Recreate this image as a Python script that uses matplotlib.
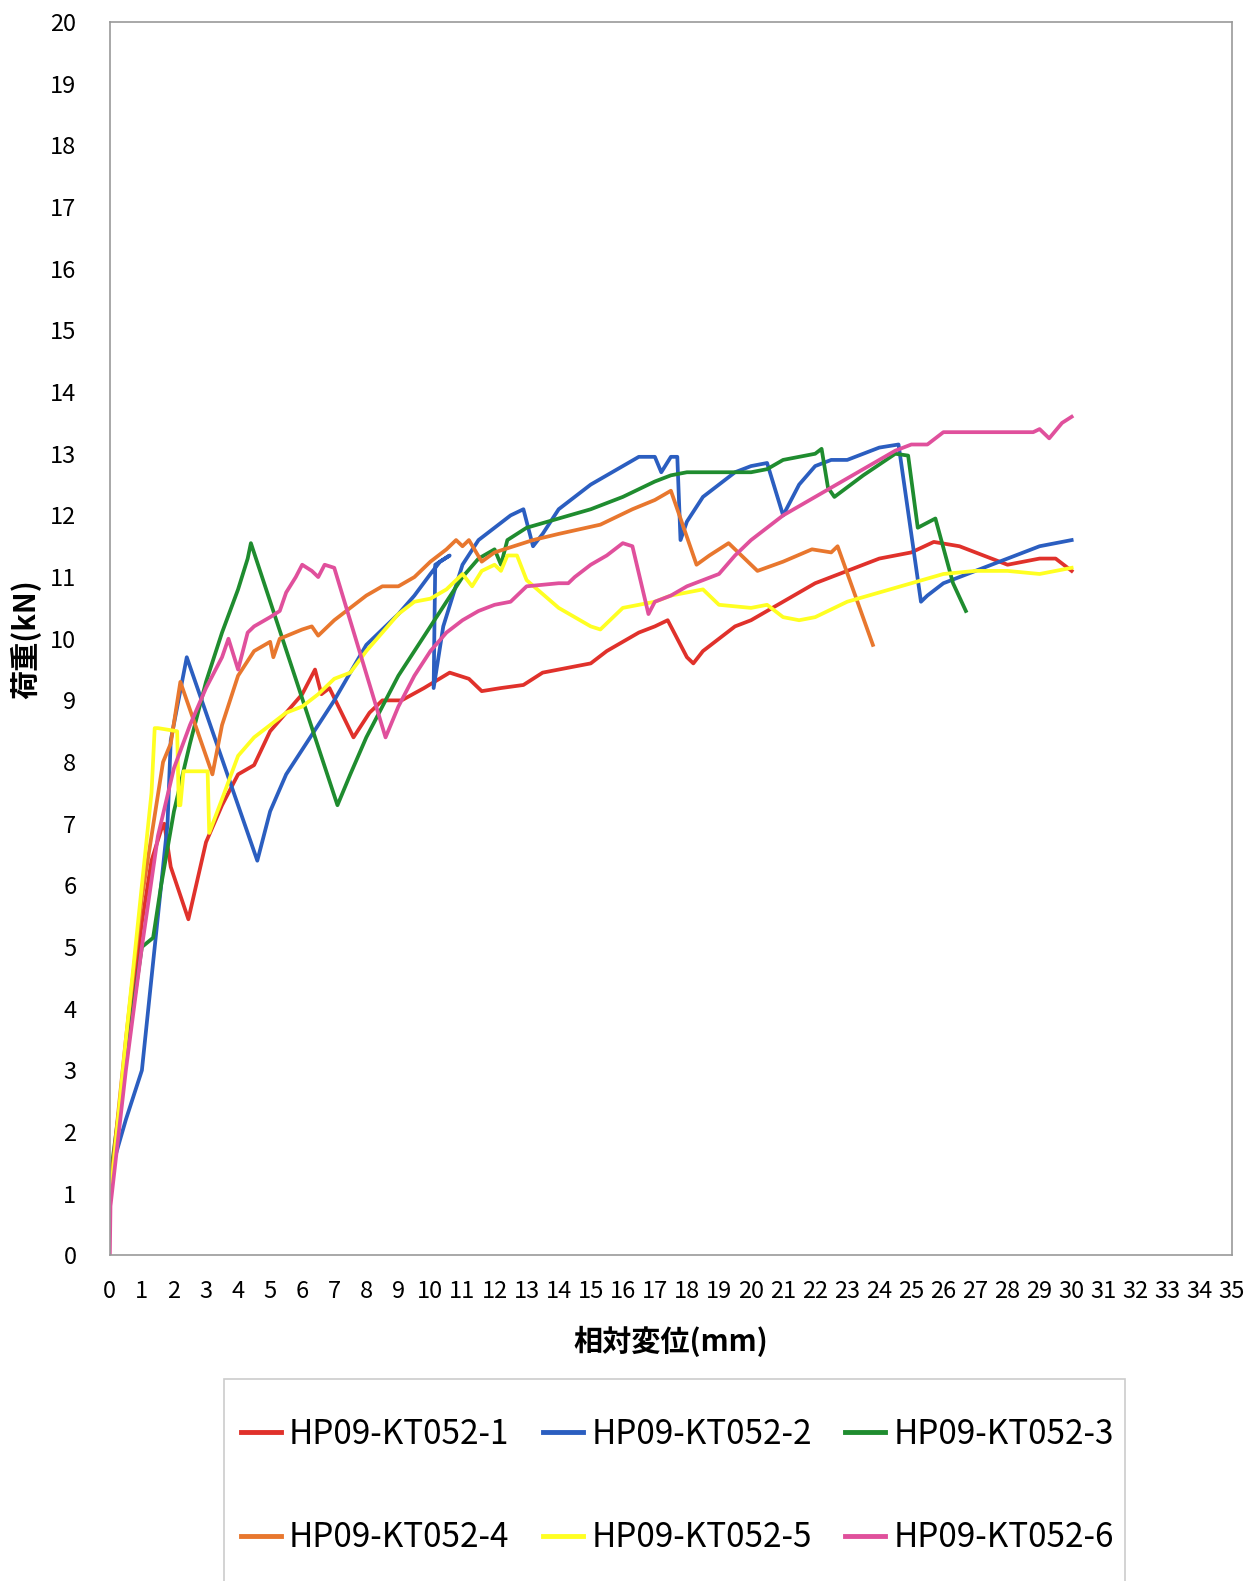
import matplotlib
matplotlib.use('Agg')
import matplotlib.pyplot as plt
from matplotlib.patches import Rectangle

plt.rcParams['font.family'] = ['Noto Sans CJK JP', 'DejaVu Sans']

# データ (相対変位 mm, 荷重 kN)
x1 = [0, 0.5, 1.0, 1.3, 1.6, 1.7, 1.9, 2.45, 3.0, 3.5, 4.0, 4.5, 5.0, 5.5, 6.0, 6.4, 6.6, 6.85,
      7.6, 8.1, 8.5, 9.1, 9.8, 10.6, 11.2, 11.6, 12.2, 12.9, 13.5, 15.0, 15.5, 16.5, 17.0, 17.4,
      18.0, 18.2, 18.5, 19.0, 19.5, 20.0, 21.0, 22.0, 23.0, 24.0, 25.0, 25.7, 26.5, 27.0, 28.0,
      29.0, 29.5, 30.0]
y1 = [0.9, 3.3, 5.4, 6.4, 6.9, 7.0, 6.3, 5.45, 6.7, 7.3, 7.8, 7.95, 8.5, 8.8, 9.1, 9.5, 9.1, 9.2,
      8.4, 8.8, 9.0, 9.0, 9.2, 9.45, 9.35, 9.15, 9.2, 9.25, 9.45, 9.6, 9.8, 10.1, 10.2, 10.3,
      9.7, 9.6, 9.8, 10.0, 10.2, 10.3, 10.6, 10.9, 11.1, 11.3, 11.4, 11.57, 11.5, 11.4, 11.2,
      11.3, 11.3, 11.1]

x2 = [0, 0.5, 1.0, 1.3, 1.5, 1.8, 1.9, 2.4, 4.6, 5.0, 5.5, 6.0, 7.0, 8.0, 9.0, 9.5, 10.0, 10.3,
      10.6, 10.15, 10.1, 10.4, 11.0, 11.5, 12.0, 12.5, 12.9, 13.2, 13.5, 14.0, 15.0, 16.0, 16.5,
      17.0, 17.2, 17.5, 17.7, 17.8, 18.0, 18.5, 19.0, 19.5, 20.0, 20.5, 21.0, 21.5, 22.0, 22.5,
      23.0, 23.5, 24.0, 24.6, 25.3, 25.5, 26.0, 27.0, 28.0, 29.0, 30.0]
y2 = [1.3, 2.2, 3.0, 4.5, 5.5, 7.0, 8.35, 9.7, 6.4, 7.2, 7.8, 8.2, 9.0, 9.9, 10.4, 10.7, 11.05, 11.25,
      11.35, 11.2, 9.2, 10.2, 11.2, 11.6, 11.8, 12.0, 12.1, 11.5, 11.7, 12.1, 12.5, 12.8, 12.95,
      12.95, 12.7, 12.95, 12.95, 11.6, 11.9, 12.3, 12.5, 12.7, 12.8, 12.85, 12.0, 12.5, 12.8, 12.9,
      12.9, 13.0, 13.1, 13.15, 10.6, 10.7, 10.9, 11.1, 11.3, 11.5, 11.6]

x3 = [0, 0.5, 1.0, 1.35, 1.6, 2.0, 2.5, 3.0, 3.5, 4.0, 4.3, 4.4, 7.1, 7.5, 8.0, 8.5, 9.0, 9.5,
      10.0, 10.5, 11.0, 11.5, 12.0, 12.2, 12.4, 12.7, 13.0, 14.0, 15.0, 16.0, 17.0, 17.5, 18.0,
      19.0, 20.0, 20.5, 21.0, 22.0, 22.2, 22.4, 22.6, 23.5, 24.5, 24.9, 25.2, 25.75, 26.3, 26.7]
y3 = [1.2, 3.2, 5.0, 5.15, 6.0, 7.2, 8.3, 9.3, 10.1, 10.8, 11.3, 11.55, 7.3, 7.8, 8.4, 8.9, 9.4, 9.8,
      10.2, 10.6, 11.0, 11.3, 11.45, 11.2, 11.6, 11.7, 11.8, 11.95, 12.1, 12.3, 12.55, 12.65, 12.7,
      12.7, 12.7, 12.75, 12.9, 13.0, 13.08, 12.45, 12.3, 12.65, 13.0, 12.97, 11.8, 11.95, 10.9, 10.45]

x4 = [0, 0.5, 1.0, 1.3, 1.66, 1.9, 2.2, 3.2, 3.5, 4.0, 4.5, 5.0, 5.1, 5.3, 6.0, 6.3, 6.5, 7.0,
      7.5, 8.0, 8.5, 9.0, 9.5, 10.0, 10.5, 10.8, 11.0, 11.2, 11.6, 12.0, 13.2, 14.0, 15.3, 16.3,
      17.0, 17.5, 18.3, 18.7, 19.3, 19.7, 20.2, 21.0, 21.9, 22.5, 22.7, 23.8]
y4 = [1.0, 3.5, 5.8, 6.8, 8.0, 8.3, 9.3, 7.8, 8.6, 9.4, 9.8, 9.95, 9.7, 10.0, 10.15, 10.2, 10.05, 10.3,
      10.5, 10.7, 10.85, 10.85, 11.0, 11.25, 11.45, 11.6, 11.5, 11.6, 11.25, 11.4, 11.6, 11.7, 11.85, 12.1,
      12.25, 12.4, 11.2, 11.35, 11.55, 11.35, 11.1, 11.25, 11.45, 11.4, 11.5, 9.9]

x5 = [0, 0.5, 1.0, 1.3, 1.4, 1.5, 2.1, 2.15, 2.2, 2.3, 3.0, 3.05, 3.1, 3.5, 4.0, 4.5, 5.0, 5.5,
      6.0, 6.5, 7.0, 7.5, 8.0, 8.5, 9.0, 9.5, 10.0, 10.5, 11.0, 11.3, 11.6, 12.0, 12.2, 12.4, 12.7,
      13.0, 14.0, 15.0, 15.3, 16.0, 16.5, 17.0, 17.5, 18.0, 18.5, 19.0, 20.0, 20.5, 21.0, 21.5,
      22.0, 23.0, 24.0, 25.0, 26.0, 27.0, 28.0, 29.0, 30.0]
y5 = [0.85, 3.5, 6.0, 7.5, 8.55, 8.55, 8.5, 7.3, 7.3, 7.85, 7.85, 7.85, 6.85, 7.4, 8.1, 8.4, 8.6, 8.8,
      8.9, 9.1, 9.35, 9.45, 9.8, 10.1, 10.4, 10.6, 10.65, 10.8, 11.05, 10.85, 11.1, 11.2, 11.1, 11.35, 11.35,
      10.95, 10.5, 10.2, 10.15, 10.5, 10.55, 10.6, 10.7, 10.75, 10.8, 10.55, 10.5, 10.55, 10.35, 10.3,
      10.35, 10.6, 10.75, 10.9, 11.05, 11.1, 11.1, 11.05, 11.15]

x6 = [0, 0.02, 0.5, 1.0, 1.5, 2.0, 2.5, 3.0, 3.5, 3.7, 4.0, 4.3, 4.5, 5.0, 5.3, 5.5, 5.8, 6.0,
      6.3, 6.5, 6.7, 7.0, 8.6, 9.0, 9.5, 10.0, 10.5, 11.0, 11.5, 12.0, 12.5, 13.0, 14.0, 14.3,
      14.5, 15.0, 15.5, 16.0, 16.3, 16.8, 17.0, 17.5, 18.0, 18.5, 19.0, 19.5, 20.0, 20.5, 21.0,
      21.5, 22.0, 23.0, 24.0, 24.5, 25.0, 25.5, 26.0, 27.0, 28.0, 28.8, 29.0, 29.3, 29.7, 30.0]
y6 = [0.0, 0.8, 3.0, 5.0, 6.8, 7.9, 8.6, 9.2, 9.7, 10.0, 9.5, 10.1, 10.2, 10.35, 10.45, 10.75, 11.0, 11.2,
      11.1, 11.0, 11.2, 11.15, 8.4, 8.9, 9.4, 9.8, 10.1, 10.3, 10.45, 10.55, 10.6, 10.85, 10.9, 10.9,
      11.0, 11.2, 11.35, 11.55, 11.5, 10.4, 10.6, 10.7, 10.85, 10.95, 11.05, 11.35, 11.6, 11.8, 12.0,
      12.15, 12.3, 12.6, 12.9, 13.05, 13.15, 13.15, 13.35, 13.35, 13.35, 13.35, 13.4, 13.25, 13.5, 13.6]

series = [(x1, y1), (x2, y2), (x3, y3), (x4, y4), (x5, y5), (x6, y6)]
labels = ['HP09-KT052-1', 'HP09-KT052-2', 'HP09-KT052-3',
          'HP09-KT052-4', 'HP09-KT052-5', 'HP09-KT052-6']
colors = ['#e0312b', '#2b5ec0', '#1f8c2f', '#e8772e', '#ffff22', '#e0509c']

fig = plt.figure(figsize=(12.58, 15.81), dpi=100)
ax = fig.add_axes([0.0873, 0.206, 0.892, 0.780])

lines = []
for (xs, ys), lab, c in zip(series, labels, colors):
    ln, = ax.plot(xs, ys, color=c, lw=2.7, label=lab, solid_joinstyle='round')
    lines.append(ln)

ax.set_xlim(0, 35)
ax.set_ylim(0, 20)
ax.set_xticks(range(0, 36))
ax.set_yticks(range(0, 21))
ax.tick_params(length=0, labelsize=17)
ax.tick_params(axis='x', pad=18)
ax.tick_params(axis='y', pad=24)
for s in ax.spines.values():
    s.set_color('#999999')
    s.set_linewidth(1.2)

ax.set_xlabel('相対変位(mm)', fontsize=21, fontweight='bold', labelpad=16)
ax.set_ylabel('荷重(kN)', fontsize=21, fontweight='bold', labelpad=6)

# 凡例の枠
fig.patches.append(Rectangle((0.178, -0.01), 0.716, 0.138, transform=fig.transFigure,
                             facecolor='white', edgecolor='#cccccc', lw=1.2))
# 横並び (3列) になるよう並べ替え
order = [0, 3, 1, 4, 2, 5]
leg = fig.legend([lines[i] for i in order], [labels[i] for i in order],
                 loc='upper left', bbox_to_anchor=(0.1914, 0.1038), ncol=3,
                 frameon=False, fontsize=24, handlelength=1.2, handletextpad=0.25,
                 columnspacing=1.0, labelspacing=2.05, borderpad=0, borderaxespad=0)
for h in leg.get_lines():
    h.set_linewidth(3.5)

fig.savefig('out.png', dpi=100)
